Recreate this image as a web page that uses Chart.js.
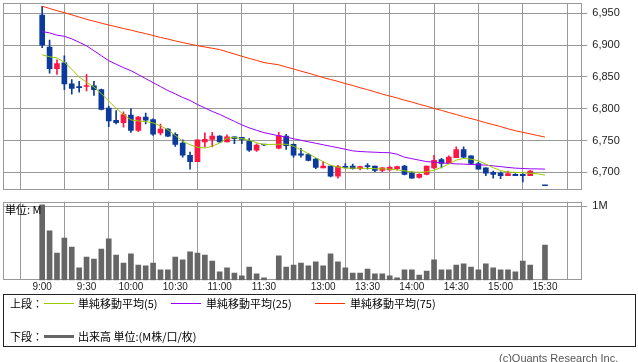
<!DOCTYPE html>
<html lang="ja">
<head>
<meta charset="UTF-8">
<title>5分足チャート</title>
<script src="https://cdn.jsdelivr.net/npm/chart.js"></script>
<style>
    body {
        margin: 0;
        width: 638px;
        height: 362px;
        background: #fff;
        position: relative;
        overflow: hidden;
        font-family: "Noto Sans CJK JP", sans-serif;
        font-size: 11px;
        color: #000;
    }
    canvas { position: absolute; left: 0; }
    #cPrice { top: 0; }
    #cVol { top: 195px; }
    .txt { position: absolute; line-height: 14px; white-space: nowrap; }
    .sw { position: absolute; }
    #legendBox {
        position: absolute; left: 3px; top: 294px;
        width: 631px; height: 51px; border: 1px solid #222;
    }
</style>
</head>
<body>
    <canvas id="cPrice" width="638" height="195"></canvas>
    <canvas id="cVol" width="638" height="100"></canvas>
    <div class="txt" style="left:5px; top:202px;">単位: M</div>

    <div id="legendBox"></div>
    <div class="txt" style="left:10px; top:296px;">上段：</div>
    <div class="sw" style="left:44px; top:303px; width:30px; height:1px; background:#99cc00;"></div>
    <div class="txt" style="left:78px; top:296px;">単純移動平均(5)</div>
    <div class="sw" style="left:171px; top:303px; width:30px; height:1px; background:#9900ff;"></div>
    <div class="txt" style="left:206px; top:296px;">単純移動平均(25)</div>
    <div class="sw" style="left:315px; top:303px; width:30px; height:1px; background:#ff3300;"></div>
    <div class="txt" style="left:350px; top:296px;">単純移動平均(75)</div>
    <div class="txt" style="left:10px; top:329px;">下段：</div>
    <div class="sw" style="left:44px; top:335px; width:30px; height:3px; background:#666;"></div>
    <div class="txt" style="left:78px; top:329px;">出来高 単位:(M株/口/枚)</div>
    <div class="txt" style="left:499px; top:351px; color:#555; font-family:'Liberation Sans', sans-serif;">(c)Quants Research Inc.</div>

<script>
    // 5分足 (昼休みは空きスロット '' を1つ)
    const times = ['9:00','9:05','9:10','9:15','9:20','9:25','9:30','9:35','9:40','9:45',
        '9:50','9:55','10:00','10:05','10:10','10:15','10:20','10:25','10:30','10:35',
        '10:40','10:45','10:50','10:55','11:00','11:05','11:10','11:15','11:20','11:25',
        '11:30','','12:30','12:35','12:40','12:45','12:50','12:55','13:00','13:05',
        '13:10','13:15','13:20','13:25','13:30','13:35','13:40','13:45','13:50','13:55',
        '14:00','14:05','14:10','14:15','14:20','14:25','14:30','14:35','14:40','14:45',
        '14:50','14:55','15:00','15:05','15:10','15:15','15:20','15:25','15:30'];
    const axisTimes = ['9:00','9:30','10:00','10:30','11:00','11:30','13:00','13:30','14:00','14:30','15:00','15:30'];
    const priceTicks = [6700, 6750, 6800, 6850, 6900, 6950];
    const volTicks = [1];

    const open = [6947,6897,6863,6872,6839,6835,6835,6836,6830,6801,
        6782,6778,6790,6766,6787,6783,6762,6768,6760,6746,
        6727,6717,6748,6752,6757,6748,6756,6755,6749,6735,
        6743,null,6738,6757,6744,6729,6728,6721,6707,6710,
        6694,6709,6710,6706,6710,6710,6703,6704,6706,6710,
        6699,6692,6697,6707,6720,6715,6723,6736,6726,6714,
        6707,6700,6699,6695,6697,6697,6695,null,6679];
    const high = [6961,6908,6877,6883,6846,6843,6854,6843,6831,6804,
        6797,6795,6800,6788,6793,6784,6776,6769,6762,6751,
        6732,6751,6762,6763,6758,6759,6756,6755,6753,6745,
        6744,null,6763,6760,6745,6738,6730,6722,6717,6710,
        6711,6714,6713,6710,6714,6710,6708,6710,6710,6711,
        6701,6698,6710,6727,6722,6726,6740,6740,6726,6716,
        6707,6702,6701,6702,6698,6698,6703,null,6679];
    const low = [6896,6856,6854,6830,6823,6826,6828,6821,6798,6772,
        6776,6771,6763,6764,6776,6758,6759,6756,6741,6724,
        6705,6717,6740,6740,6747,6748,6745,6745,6733,6733,
        6742,null,6737,6736,6724,6724,6718,6706,6707,6693,
        6691,6707,6705,6704,6705,6701,6701,6703,6704,6696,
        6691,6691,6696,6706,6707,6715,6723,6723,6713,6705,
        6695,6691,6690,6695,6695,6685,6695,null,6679];
    const close = [6900,6863,6871,6839,6832,6833,6836,6830,6799,6781,
        6778,6791,6766,6787,6782,6760,6768,6757,6744,6727,
        6717,6751,6752,6757,6748,6756,6753,6752,6735,6743,
        6743,null,6758,6742,6727,6727,6719,6708,6710,6694,
        6709,6708,6706,6709,6709,6703,6707,6708,6709,6697,
        6691,6697,6710,6719,6714,6724,6736,6724,6714,6705,
        6699,6697,6695,6698,6695,6695,6702,null,6679];
    // 出来高 (M)
    const volume = [1.02,0.667,0.369,0.572,0.45,0.167,0.315,0.288,0.423,0.559,
        0.342,0.234,0.356,0.207,0.194,0.234,0.14,0.14,0.315,0.275,
        0.383,0.369,0.342,0.261,0.113,0.167,0.099,0.059,0.18,0.086,
        0.032,null,0.329,0.18,0.207,0.234,0.194,0.248,0.194,0.356,
        0.248,0.167,0.099,0.099,0.153,0.086,0.086,0.059,0.032,0.14,
        0.14,0.072,0.126,0.275,0.14,0.14,0.207,0.221,0.18,0.14,
        0.221,0.167,0.14,0.14,0.113,0.261,0.207,null,0.477];
    const ma5 = [6884.8,6881.7,6879.8,6873.1,6862.2,6849.7,6841.9,6834.1,6823.9,6812.2,
        6800.5,6791.1,6782.5,6780.9,6779.8,6777.8,6773.1,6766.9,6758.3,6748.9,
        6743.4,6739.5,6738.4,6741.1,6746.2,6753.6,6754.7,6753.1,6750.5,6746.6,
        6743.8,null,6744.2,6744.2,6741.1,6735.6,6729.4,6723.1,6716.9,6711.4,
        6708.3,6706.7,6706.7,6706.7,6706.2,6705.9,6705.6,6705.2,6703.9,6702.5,
        6700.8,6700.2,6700.9,6703.6,6707.8,6713.0,6719.2,6721.9,6720.8,6718.4,
        6713.0,6707.5,6702.8,6700.8,6700.0,6699.5,6698.6,6697.7,6695.8];
    const ma25 = [6921.3,6919.2,6915.6,6913.8,6909.8,6904.4,6898.9,6891.1,6883.3,6875.5,
        6870.0,6864.5,6859.8,6853.6,6847.3,6841.1,6834.8,6828.6,6823.4,6817.7,
        6813.0,6806.7,6801.3,6795.8,6791.1,6785.6,6780.2,6774.7,6770.0,6766.1,
        6762.5,null,6757.5,6755.6,6752.8,6750.5,6748.1,6745.8,6743.4,6741.1,
        6738.8,6736.4,6733.8,6732.8,6732.2,6731.7,6731.2,6730.9,6728.6,6723.9,
        6721.6,6719.2,6716.9,6716.1,6715.0,6714.1,6713.4,6713.0,6712.5,6711.9,
        6711.4,6710.3,6709.1,6707.8,6706.7,6706.2,6705.6,6705.5,6705.2];
    const ma75 = [6961,6957.5,6954,6951,6947.5,6944,6940.5,6937.5,6934.5,6931.5,
        6929,6926,6923.5,6920.5,6918,6915,6912,6909.5,6906.5,6904,
        6901.5,6899,6897,6895,6893,6889.5,6886,6882.5,6879,6876,
        6872.5,null,6869,6865.5,6862.5,6859,6856,6852.5,6849,6846,
        6843,6839.5,6836.5,6833,6830,6826.5,6823,6820,6817,6813.5,
        6810.5,6807,6804,6800.5,6797.5,6794,6791,6787.5,6784.5,6781.5,
        6778,6775,6772,6768.5,6765.5,6763,6760.5,6758,6755.5];

    const UP = '#ff1744';
    const DOWN = '#0b3a9c';
    const GRID = '#999';
    const axisTickIdx = axisTimes.map(t => times.indexOf(t));

    // ローソク足は floating bar で描く
    const bodies = [], wicks = [], candleColors = [], volBars = [];
    for (let i = 0; i < times.length; i++) {
        if (open[i] !== null) {
            bodies.push({ x: i, y: [open[i], close[i]] });
            wicks.push({ x: i, y: [low[i], high[i]] });
            candleColors.push(close[i] > open[i] ? UP : DOWN);
        }
        if (volume[i] !== null) volBars.push({ x: i, y: volume[i] });
    }
    const toPts = arr => arr.map((v, i) => ({ x: i, y: v }));

    const framePlugin = {
        id: 'frame',
        beforeDatasetsDraw(chart) {
            const { ctx, chartArea: a } = chart;
            ctx.save();
            ctx.strokeStyle = GRID;
            ctx.lineWidth = 1;
            const l = Math.round(a.left) + 0.5, t = Math.round(a.top) + 0.5;
            const r = Math.round(a.right) - 0.5, b = Math.round(a.bottom) - 0.5;
            ctx.strokeRect(l, t, r - l, b - t);
            ctx.restore();
        }
    };

    const X_MIN = -5.3, X_MAX = 73.05;

    function xScale(showLabels) {
        return {
            type: 'linear',
            min: X_MIN,
            max: X_MAX,
            offset: false,
            afterBuildTicks: s => { s.ticks = axisTickIdx.map(v => ({ value: v })); },
            afterFit: s => {
                s.height = showLabels ? 14.7 : 0;
                s.paddingLeft = 0; s.paddingRight = 0;
            },
            grid: { color: GRID, lineWidth: 1, drawTicks: false },
            border: { display: false },
            ticks: {
                display: showLabels,
                padding: 1,
                autoSkip: false,
                maxRotation: 0,
                color: '#222',
                font: { family: 'Liberation Sans', size: 10 },
                callback: v => axisTimes[axisTickIdx.indexOf(v)]
            }
        };
    }

    function yScale(min, max, tickVals, fmt) {
        return {
            position: 'right',
            min: min,
            max: max,
            afterBuildTicks: s => { s.ticks = tickVals.map(v => ({ value: v })); },
            afterFit: s => {
                s.width = 638 - 582.3;
                s.paddingTop = 0; s.paddingBottom = 0;
            },
            grid: { color: GRID, lineWidth: 1, drawTicks: true, tickLength: 5 },
            border: { display: false },
            ticks: {
                padding: 5,
                color: '#222',
                font: { family: 'Liberation Sans', size: 11 },
                callback: fmt
            }
        };
    }

    new Chart(document.getElementById('cPrice'), {
        data: {
            datasets: [
                { type: 'line', data: toPts(ma5), borderColor: '#99cc00', borderWidth: 1, pointRadius: 0, spanGaps: true, order: 0 },
                { type: 'line', data: toPts(ma25), borderColor: '#9900ff', borderWidth: 1, pointRadius: 0, spanGaps: true, order: 0 },
                { type: 'line', data: toPts(ma75), borderColor: '#ff3300', borderWidth: 1, pointRadius: 0, spanGaps: true, order: 0 },
                { type: 'bar', data: bodies, backgroundColor: candleColors, barThickness: 5, minBarLength: 1, grouped: false, order: 1 },
                { type: 'bar', data: wicks, backgroundColor: candleColors, barThickness: 1, grouped: false, order: 2 }
            ]
        },
        options: {
            responsive: false,
            animation: false,
            devicePixelRatio: 1,
            layout: { padding: { left: 3, top: 3, right: 0, bottom: 195 - 190.3 } },
            plugins: { legend: { display: false }, tooltip: { enabled: false } },
            scales: {
                x: xScale(false),
                y: yScale(6671.9, 6966.1, priceTicks, v => v.toLocaleString('en-US'))
            }
        },
        plugins: [framePlugin]
    });

    new Chart(document.getElementById('cVol'), {
        type: 'bar',
        data: {
            datasets: [
                { data: volBars, backgroundColor: '#666', barThickness: 5, grouped: false }
            ]
        },
        options: {
            responsive: false,
            animation: false,
            devicePixelRatio: 1,
            layout: { padding: { left: 3, top: 6.7, right: 0, bottom: 0 } },
            plugins: { legend: { display: false }, tooltip: { enabled: false } },
            scales: {
                x: xScale(true),
                y: yScale(0, 1.062, volTicks, v => v + 'M')
            }
        },
        plugins: [framePlugin]
    });
</script>
</body>
</html>
